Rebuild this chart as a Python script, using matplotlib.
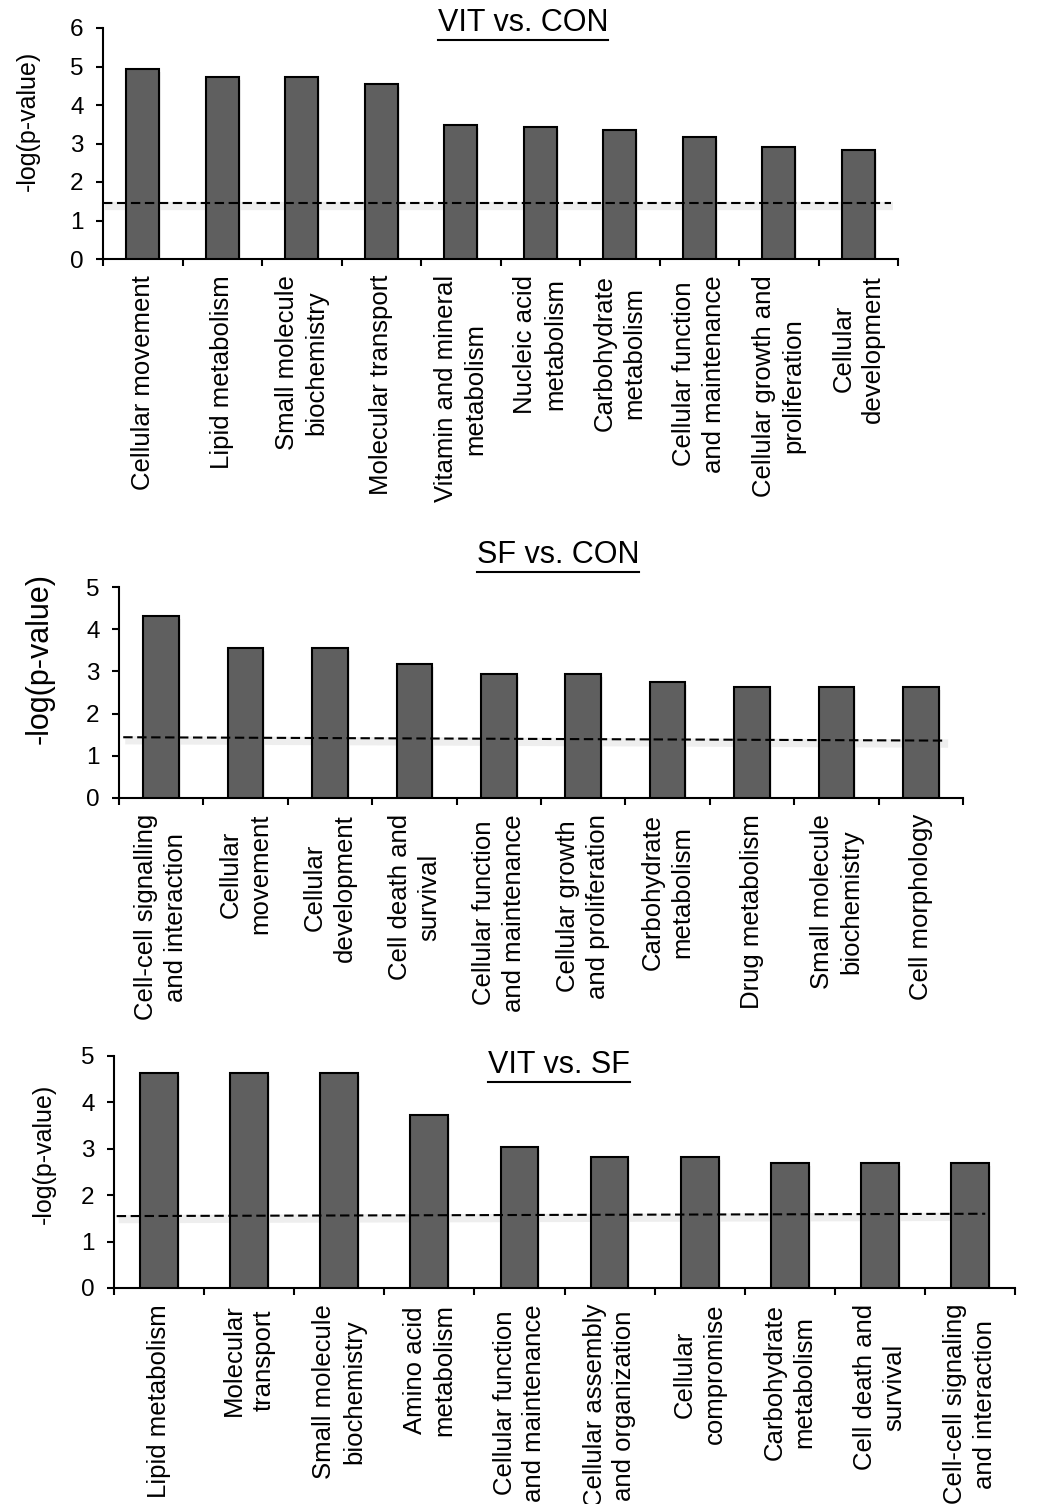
import matplotlib
matplotlib.use('Agg')
import matplotlib.pyplot as plt
import matplotlib.transforms as mtransforms
from matplotlib.lines import Line2D
from matplotlib import rcParams

rcParams['font.family'] = ['Liberation Sans', 'DejaVu Sans']
rcParams['axes.linewidth'] = 1.5
rcParams['xtick.major.width'] = 1.5
rcParams['ytick.major.width'] = 1.5
rcParams['xtick.major.size'] = 5
rcParams['ytick.major.size'] = 5

# ---- data ----
vit_con_labels = ['Cellular movement', 'Lipid metabolism', 'Small molecule\nbiochemistry',
                  'Molecular transport', 'Vitamin and mineral\nmetabolism', 'Nucleic acid\nmetabolism',
                  'Carbohydrate\nmetabolism', 'Cellular function\nand maintenance',
                  'Cellular growth and\nproliferation', 'Cellular\ndevelopment']
vit_con_values = [4.94, 4.73, 4.73, 4.55, 3.49, 3.42, 3.36, 3.16, 2.90, 2.83]
vit_con_thr = [1.45, 1.45]

sf_con_labels = ['Cell-cell signalling\nand interaction', 'Cellular\nmovement', 'Cellular\ndevelopment',
                 'Cell death and\nsurvival', 'Cellular function\nand maintenance',
                 'Cellular growth\nand proliferation', 'Carbohydrate\nmetabolism', 'Drug metabolism',
                 'Small molecule\nbiochemistry', 'Cell morphology']
sf_con_values = [4.31, 3.55, 3.55, 3.18, 2.94, 2.94, 2.75, 2.63, 2.63, 2.63]
sf_con_thr = [1.44, 1.36]

vit_sf_labels = ['Lipid metabolism', 'Molecular\ntransport', 'Small molecule\nbiochemistry',
                 'Amino acid\nmetabolism', 'Cellular function\nand maintenance',
                 'Cellular assembly\nand organization', 'Cellular\ncompromise', 'Carbohydrate\nmetabolism',
                 'Cell death and\nsurvival', 'Cell-cell signaling\nand interaction']
vit_sf_values = [4.63, 4.63, 4.63, 3.73, 3.04, 2.82, 2.82, 2.70, 2.70, 2.70]
vit_sf_thr = [1.55, 1.60]

W, H = 1037, 1504
fig = plt.figure(figsize=(W / 100, H / 100), dpi=100)


def px_rect(left, right, top, bottom):
    return [left / W, 1 - bottom / H, (right - left) / W, (bottom - top) / H]


def draw_panel(rect, labels, values, ymax, thr, thr_x, ylabel_size, ylabel_pos):
    ax = fig.add_axes(rect)
    n = len(values)
    centers = [i + 0.5 for i in range(n)]
    # soft shadow under bars and threshold line
    shadow = mtransforms.offset_copy(ax.transData, fig=fig, x=2, y=-3, units='dots')
    ax.bar(centers, values, width=0.42, color='#dcdcdc', alpha=0.5, linewidth=0,
           transform=shadow, zorder=2)
    ax.plot(thr_x, thr, color='#e8e8e8', lw=6, solid_capstyle='butt',
            transform=shadow, zorder=2.5, alpha=0.7)
    ax.bar(centers, values, width=0.42, color='#5f5f5f', edgecolor='black',
           linewidth=1.5, zorder=3)
    ax.plot(thr_x, thr, color='black', lw=1.5, dashes=(4.5, 2.2), zorder=4)
    ax.set_xlim(0, n)
    ax.set_ylim(0, ymax)
    ax.set_yticks(range(ymax + 1))
    ax.set_xticks(range(n + 1))
    ax.set_xticklabels([])
    ax.set_xticks(centers, minor=True)
    ax.set_xticklabels(labels, minor=True, rotation=90, fontsize=18.5, linespacing=1.3)
    ax.tick_params(axis='x', which='minor', length=0, pad=11.5)
    ax.tick_params(axis='y', labelsize=17.5, pad=9)
    ax.spines['top'].set_visible(False)
    ax.spines['right'].set_visible(False)
    ax.set_ylabel('-log(p-value)', fontsize=ylabel_size)
    ax.yaxis.set_label_coords(*ylabel_pos)
    return ax


def underlined_title(text, cx, baseline):
    t = fig.text(cx / W, 1 - baseline / H, text, ha='center', va='baseline', fontsize=22)
    fig.canvas.draw()
    bb = t.get_window_extent()
    y = (H - baseline - 9) / H
    fig.add_artist(Line2D([bb.x0 / W, bb.x1 / W], [y, y], color='black', lw=1.5))


draw_panel(px_rect(103, 898, 28, 259), vit_con_labels, vit_con_values, 6,
           vit_con_thr, [0.0, 9.91], 18, (-0.079, 0.60))
draw_panel(px_rect(119, 963, 587, 798), sf_con_labels, sf_con_values, 5,
           sf_con_thr, [0.05, 9.80], 22, (-0.076, 0.66))
draw_panel(px_rect(114, 1015, 1056, 1288), vit_sf_labels, vit_sf_values, 5,
           vit_sf_thr, [0.03, 9.67], 18, (-0.064, 0.58))

underlined_title('VIT vs. CON', 523, 31)
underlined_title('SF vs. CON', 558, 563)
underlined_title('VIT vs. SF', 559, 1073)

fig.savefig('out.png', dpi=100)
